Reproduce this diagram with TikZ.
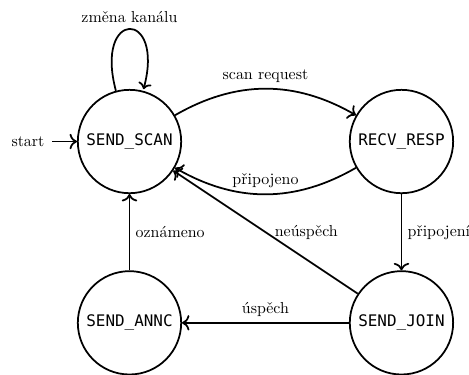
\documentclass[tikz,border=0pt]{standalone}
\usepackage{fontspec}
\setmonofont{DejaVu Sans Mono}
\usetikzlibrary{positioning,arrows.meta}
\begin{document}
\begin{tikzpicture}[
  statebox/.style={circle, draw, line width=1.1pt, minimum size=2.28cm, inner sep=0pt, font=\ttfamily},
  edgeline/.style={-{To[scale=1.15]}, line width=1.1pt}
]
\useasboundingbox (-2.857,-5.129) rectangle (7.490,3.122);
\node[statebox] (scan) at (0,0) {SEND\_SCAN};
\node[statebox] (recv) at (6,0) {RECV\_RESP};
\node[statebox] (join) at (6,-4) {SEND\_JOIN};
\node[statebox] (annc) at (0,-4) {SEND\_ANNC};
\node (start) at (-2.24,0) {start};
\draw[edgeline, shorten <=1.5pt] (start) -- (scan);
\path (scan) edge[edgeline, loop above] node[above] {změna kanálu} ();
\draw[edgeline] (scan) to[bend left=30] node[above] {scan request} (recv);
\draw[edgeline] (recv) to[bend left=30] node[above] {připojeno} (scan);
\draw[edgeline] (join) -- node[right, xshift=2pt] {neúspěch} (scan);
\draw[edgeline] (recv) -- node[right] {připojení} (join);
\draw[edgeline] (join) -- node[above] {úspěch} (annc);
\draw[edgeline] (annc) -- node[right] {oznámeno} (scan);
\end{tikzpicture}
\end{document}
